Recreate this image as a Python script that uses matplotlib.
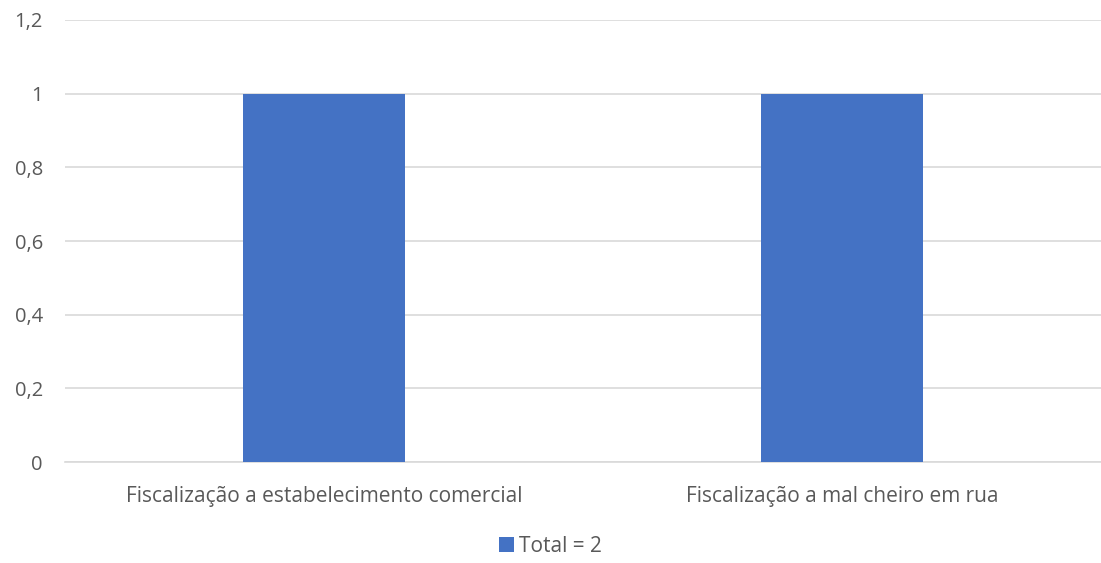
import matplotlib.pyplot as plt
from matplotlib.ticker import FuncFormatter

categories = ["Fiscalização a estabelecimento comercial", "Fiscalização a mal cheiro em rua"]
values = [1, 1]
series_label = "Total = 2"
yticks = [0, 0.2, 0.4, 0.6, 0.8, 1.0, 1.2]

plt.rcParams['font.family'] = ['Open Sans', 'DejaVu Sans']

fig = plt.figure(figsize=(11.01, 5.63), dpi=100)
ax = fig.add_axes([65 / 1101, (563 - 462) / 563, 1036 / 1101, 442 / 563])

x = list(range(len(categories)))
ax.bar(x, values, width=0.313, color='#4472c4', label=series_label, zorder=3)

ax.set_xlim(-0.5, len(categories) - 0.5)
ax.set_ylim(0, 1.2)
ax.set_yticks(yticks)
ax.yaxis.set_major_formatter(FuncFormatter(lambda v, p: f"{v:g}".replace('.', ',')))
ax.set_xticks(x)
ax.set_xticklabels(categories, fontsize=15)

ax.grid(axis='y', color='#d9d9d9', linewidth=1.2, zorder=0)
for s in ['top', 'right', 'left']:
    ax.spines[s].set_visible(False)
ax.spines['bottom'].set_color('#d9d9d9')
ax.spines['bottom'].set_linewidth(1.2)
ax.tick_params(axis='y', length=0, colors='#595959', labelsize=14.5, pad=16)
ax.tick_params(axis='x', length=0, colors='#595959', pad=17)

fig.legend(loc='center', bbox_to_anchor=(0.5, 1 - 546 / 563), frameon=False,
           fontsize=15, labelcolor='#595959', handlelength=0.7, handleheight=0.7,
           handletextpad=0.25)

fig.savefig('out.png', dpi=100)
